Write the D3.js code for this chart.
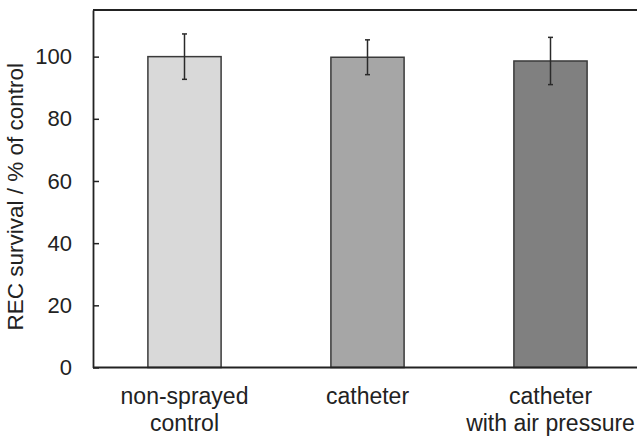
<!DOCTYPE html>
<html>
<head>
<meta charset="utf-8">
<script src="https://cdn.jsdelivr.net/npm/d3@7"></script>
<style>
  html, body { margin: 0; padding: 0; background: #fff; overflow: hidden; }
  svg { display: block; font-family: "Liberation Sans", Arial, sans-serif; }
</style>
</head>
<body>
<script>
// Survival of REC cells after spraying, relative to non-sprayed control
const categories = ["non-sprayed\ncontrol", "catheter", "catheter\nwith air pressure"];
const survival = [100, 99.8, 98.6];
const errors = [7.3, 5.6, 7.6];
const barColors = ["#d9d9d9", "#a6a6a6", "#808080"];
const yTicks = [0, 20, 40, 60, 80, 100];

const width = 637, height = 436;
const margin = { top: 10, left: 93 };
const plotW = 549, plotH = 357.5;

const svg = d3.select("body").append("svg")
  .attr("width", width).attr("height", height);

const g = svg.append("g").attr("transform", `translate(${margin.left},${margin.top})`);

const x = d3.scaleBand().domain(categories).range([0, plotW]).paddingInner(0.6).paddingOuter(0.3);
const y = d3.scaleLinear().domain([0, 115]).range([plotH, 0]);

// Bars
g.selectAll("rect.bar").data(categories).join("rect")
  .attr("class", "bar")
  .attr("x", d => x(d))
  .attr("y", (d, i) => y(survival[i]))
  .attr("width", x.bandwidth())
  .attr("height", (d, i) => y(0) - y(survival[i]))
  .attr("fill", (d, i) => barColors[i])
  .attr("stroke", "#3a3a3a")
  .attr("stroke-width", 1.5);

// Error bars
const eb = g.selectAll("g.err").data(categories).join("g").attr("class", "err")
  .attr("transform", d => `translate(${x(d) + x.bandwidth() / 2},0)`);
eb.append("line")
  .attr("y1", (d, i) => y(survival[i] + errors[i]))
  .attr("y2", (d, i) => y(survival[i] - errors[i]))
  .attr("stroke", "#2a2a2a").attr("stroke-width", 1.5);
[1, -1].forEach(s => {
  eb.append("line")
    .attr("x1", -2.5).attr("x2", 2.5)
    .attr("y1", (d, i) => y(survival[i] + s * errors[i]))
    .attr("y2", (d, i) => y(survival[i] + s * errors[i]))
    .attr("stroke", "#2a2a2a").attr("stroke-width", 1.5);
});

// Y axis with inward ticks
const yAxis = g.append("g").call(
  d3.axisLeft(y).tickValues(yTicks).tickSizeInner(-6).tickSizeOuter(0).tickPadding(21)
);
yAxis.select(".domain").attr("stroke", "#222").attr("stroke-width", 1.8);
yAxis.selectAll(".tick line").attr("stroke", "#222").attr("stroke-width", 1.5);
yAxis.selectAll(".tick text")
  .attr("fill", "#222").style("font-size", "22px")
  .style("font-family", "'Liberation Sans', Arial, sans-serif");

// Bottom axis line and top frame line
g.append("line").attr("x1", 0).attr("x2", plotW).attr("y1", y(0)).attr("y2", y(0))
  .attr("stroke", "#222").attr("stroke-width", 1.8);
g.append("line").attr("x1", 0).attr("x2", plotW).attr("y1", 0).attr("y2", 0)
  .attr("stroke", "#222").attr("stroke-width", 1.8);

// Category labels (two lines)
const xl = g.selectAll("text.cat").data(categories).join("text")
  .attr("class", "cat")
  .attr("text-anchor", "middle")
  .attr("fill", "#222")
  .style("font-size", "23px")
  .attr("transform", d => `translate(${x(d) + x.bandwidth() / 2},${plotH + 36})`);
xl.selectAll("tspan").data(d => d.split("\n")).join("tspan")
  .attr("x", 0)
  .attr("dy", (d, i) => i === 0 ? 0 : 27.5)
  .text(d => d);

// Y axis title
svg.append("text")
  .attr("transform", `translate(23,${margin.top + plotH / 2 + 8}) rotate(-90)`)
  .attr("text-anchor", "middle")
  .attr("fill", "#222")
  .style("font-size", "22.5px")
  .text("REC survival / % of control");
</script>
</body>
</html>
